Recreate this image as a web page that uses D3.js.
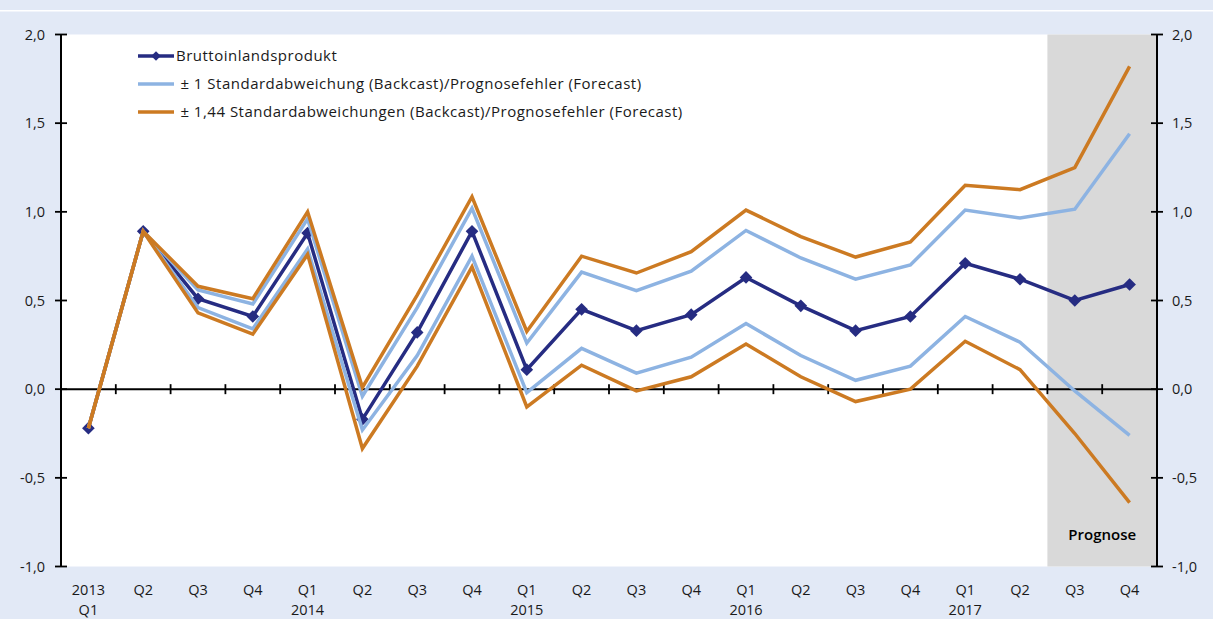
<!DOCTYPE html>
<html>
<head>
<meta charset="utf-8">
<script src="https://cdn.jsdelivr.net/npm/d3@7"></script>
<style>
  body { margin: 0; background: #e2e9f6; }
  svg { display: block; font-family: "Open Sans", Lato, sans-serif; }
</style>
</head>
<body>
<svg id="chart"></svg>
<script>
// quarters 2013 Q1 .. 2017 Q4
const quarters = ["2013Q1","2013Q2","2013Q3","2013Q4","2014Q1","2014Q2","2014Q3","2014Q4",
  "2015Q1","2015Q2","2015Q3","2015Q4","2016Q1","2016Q2","2016Q3","2016Q4",
  "2017Q1","2017Q2","2017Q3","2017Q4"];
const labelTop = ["2013","Q2","Q3","Q4","Q1","Q2","Q3","Q4","Q1","Q2","Q3","Q4","Q1","Q2","Q3","Q4","Q1","Q2","Q3","Q4"];
const labelBottom = ["Q1","","","","2014","","","","2015","","","","2016","","","","2017","","",""];

const bip = [-0.22, 0.89, 0.51, 0.41, 0.88, -0.17, 0.32, 0.89, 0.11, 0.45, 0.33, 0.42, 0.63, 0.47, 0.33, 0.41, 0.71, 0.62, 0.50, 0.59];
const sd1Upper = [-0.22, 0.89, 0.56, 0.48, 0.96, -0.04, 0.46, 1.02, 0.26, 0.66, 0.555, 0.665, 0.895, 0.74, 0.62, 0.70, 1.01, 0.965, 1.015, 1.44];
const sd1Lower = [-0.22, 0.89, 0.46, 0.34, 0.79, -0.23, 0.19, 0.75, -0.02, 0.23, 0.09, 0.18, 0.37, 0.19, 0.05, 0.13, 0.41, 0.265, -0.01, -0.26];
const sd144Upper = [-0.22, 0.89, 0.58, 0.51, 1.00, 0.01, 0.53, 1.085, 0.325, 0.75, 0.655, 0.775, 1.01, 0.86, 0.745, 0.83, 1.15, 1.125, 1.25, 1.82];
const sd144Lower = [-0.22, 0.89, 0.43, 0.31, 0.76, -0.335, 0.13, 0.69, -0.10, 0.135, -0.01, 0.07, 0.255, 0.07, -0.07, 0.0, 0.27, 0.11, -0.25, -0.64];

const yTicks = [-1.0, -0.5, 0.0, 0.5, 1.0, 1.5, 2.0];
const forecastStart = "2017Q3";

const legendItems = [
  {text: "Bruttoinlandsprodukt", color: "#262c82", marker: true},
  {text: " \u00b1 1 Standardabweichung (Backcast)/Prognosefehler (Forecast)", color: "#8db3e2", marker: false},
  {text: " \u00b1 1,44 Standardabweichungen (Backcast)/Prognosefehler (Forecast)", color: "#cc7a22", marker: false}
];

const width = 1213, height = 619;
const margin = {top: 34.5, right: 56, bottom: 52.5, left: 61};

const svg = d3.select("#chart")
  .attr("width", width)
  .attr("height", height);

// thin white line near the top
svg.append("rect").attr("x", 0).attr("y", 10).attr("width", width).attr("height", 1.5).attr("fill", "#ffffff");

const x = d3.scaleBand()
  .domain(quarters)
  .range([margin.left, width - margin.right])
  .padding(0);

const y = d3.scaleLinear()
  .domain([-1, 2])
  .range([height - margin.bottom, margin.top]);

const cx = q => x(q) + x.bandwidth() / 2;
const fmt = v => d3.format(".1f")(v).replace(".", ",").replace("\u2212", "-");

// plot area
svg.append("rect")
  .attr("x", margin.left).attr("y", margin.top)
  .attr("width", width - margin.right - margin.left)
  .attr("height", y(-1) - y(2))
  .attr("fill", "#ffffff");

// forecast shading
svg.append("rect")
  .attr("x", x(forecastStart)).attr("y", margin.top)
  .attr("width", (width - margin.right) - x(forecastStart))
  .attr("height", y(-1) - y(2))
  .attr("fill", "#d9d9d9");

svg.append("text")
  .attr("x", cx("2017Q3") + x.bandwidth() / 2)
  .attr("y", 540)
  .attr("text-anchor", "middle")
  .attr("font-size", "15px")
  .attr("font-weight", 600)
  .attr("fill", "#000")
  .text("Prognose");

// zero line with category separators
svg.append("line")
  .attr("x1", margin.left).attr("x2", width - margin.right)
  .attr("y1", y(0)).attr("y2", y(0))
  .attr("stroke", "#000").attr("stroke-width", 2);

svg.append("g").selectAll("line")
  .data(quarters.slice(1))
  .join("line")
  .attr("x1", d => x(d)).attr("x2", d => x(d))
  .attr("y1", y(0) - 5).attr("y2", y(0) + 5)
  .attr("stroke", "#000").attr("stroke-width", 1.8);

// y axes
function drawYAxis(xpos, side) {
  const g = svg.append("g");
  g.append("line")
    .attr("x1", xpos).attr("x2", xpos)
    .attr("y1", y(2)).attr("y2", y(-1))
    .attr("stroke", "#000").attr("stroke-width", 2);
  g.selectAll("line.tick")
    .data(yTicks)
    .join("line")
    .attr("class", "tick")
    .attr("x1", xpos - 6).attr("x2", xpos + 6)
    .attr("y1", d => y(d)).attr("y2", d => y(d))
    .attr("stroke", "#000").attr("stroke-width", 1.8);
  g.selectAll("text")
    .data(yTicks)
    .join("text")
    .attr("x", side === "left" ? xpos - 16 : xpos + 15)
    .attr("y", d => y(d) + 5)
    .attr("text-anchor", side === "left" ? "end" : "start")
    .attr("font-size", "14.5px")
    .attr("fill", "#1a1a1a")
    .text(d => fmt(d));
}
drawYAxis(margin.left, "left");
drawYAxis(width - margin.right, "right");

// x labels
const xl = svg.append("g");
xl.selectAll("text.top")
  .data(quarters)
  .join("text")
  .attr("class", "top")
  .attr("x", d => cx(d))
  .attr("y", 595)
  .attr("text-anchor", "middle")
  .attr("font-size", "14.5px")
  .attr("fill", "#1a1a1a")
  .text((d, i) => labelTop[i]);
xl.selectAll("text.bottom")
  .data(quarters)
  .join("text")
  .attr("class", "bottom")
  .attr("x", d => cx(d))
  .attr("y", 615)
  .attr("text-anchor", "middle")
  .attr("font-size", "14.5px")
  .attr("fill", "#1a1a1a")
  .text((d, i) => labelBottom[i]);

// lines
const line = d3.line()
  .x((d, i) => cx(quarters[i]))
  .y(d => y(d));

function drawSeries(values, color) {
  svg.append("path")
    .datum(values)
    .attr("d", line)
    .attr("fill", "none")
    .attr("stroke", color)
    .attr("stroke-width", 3.5)
    .attr("stroke-linejoin", "miter");
}

drawSeries(bip, "#262c82");
const diamond = d3.symbol().type(d3.symbolSquare).size(80);
svg.append("g").selectAll("path")
  .data(bip)
  .join("path")
  .attr("d", diamond)
  .attr("transform", (d, i) => `translate(${cx(quarters[i])},${y(d)}) rotate(45)`)
  .attr("fill", "#262c82");

drawSeries(sd1Upper, "#8db3e2");
drawSeries(sd1Lower, "#8db3e2");
drawSeries(sd144Upper, "#cc7a22");
drawSeries(sd144Lower, "#cc7a22");

// legend
const legend = svg.append("g").attr("transform", "translate(138,56)");
legendItems.forEach((item, i) => {
  const g = legend.append("g").attr("transform", `translate(0,${i * 28})`);
  g.append("line")
    .attr("x1", 0).attr("x2", 36)
    .attr("y1", 0).attr("y2", 0)
    .attr("stroke", item.color).attr("stroke-width", 3.5);
  if (item.marker) {
    g.append("path")
      .attr("d", d3.symbol().type(d3.symbolSquare).size(45))
      .attr("transform", "translate(18,0) rotate(45)")
      .attr("fill", item.color);
  }
  g.append("text")
    .attr("x", 38)
    .attr("y", 5)
    .attr("font-size", "15px")
    .attr("letter-spacing", "0.5px")
    .attr("fill", "#1a1a1a")
    .style("white-space", "pre")
    .text(item.text);
});
</script>
</body>
</html>
